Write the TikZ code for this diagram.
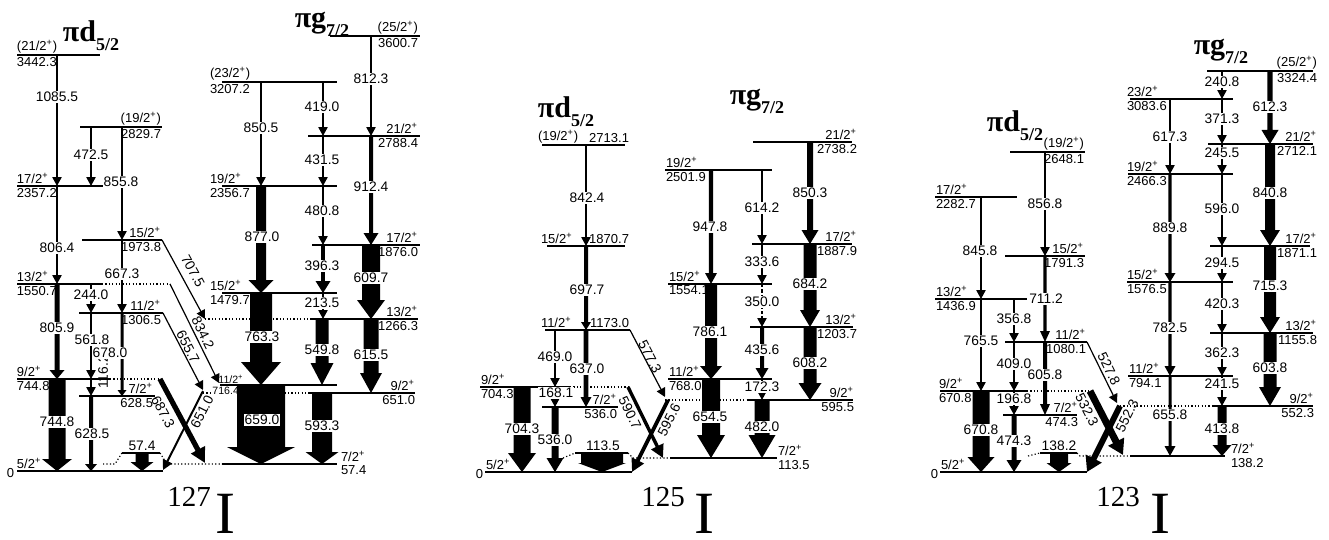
\documentclass[tikz,border=0pt]{standalone}
\usepackage{fontspec}
\usetikzlibrary{arrows.meta}
\newfontfamily\lab{Liberation Sans}
\newfontfamily\ser{Liberation Serif}
\pgfdeclarelayer{fg}
\pgfsetlayers{main,fg}
\tikzset{
 lv/.style={line width=0.55pt},
 lvd/.style={line width=0.6pt, dash pattern=on 0.6pt off 1.1pt},
 gnd/.style={line width=1.1pt},
 tn/.style={line width=0.6pt, -{Triangle[width=4.6pt,length=4.4pt]}},
 tnd/.style={tn, dash pattern=on 1.6pt off 1.1pt},
 ll/.style={font=\lab\fontsize{6.5}{7.5}\selectfont, inner sep=0.8pt},
 lls/.style={font=\lab\fontsize{5.3}{6}\selectfont, inner sep=0.5pt},
 tl/.style={font=\lab\fontsize{6.9}{8}\selectfont, fill=white, inner sep=0.5pt},
 dl/.style={font=\lab\fontsize{6.9}{8}\selectfont, inner sep=0.5pt},
 ttl/.style={font=\ser\bfseries\fontsize{15}{15}\selectfont, inner sep=0pt},
 nuc/.style={font=\ser\fontsize{14.5}{14.5}\selectfont, inner sep=0pt},
 bigI/.style={font=\ser\fontsize{30}{30}\selectfont, inner sep=0pt},
}
\newcommand\spn[1]{#1\textsuperscript{+}}
\newcommand\Lev[3]{\draw[lv] (#1,#3) -- (#2,#3);}
\newcommand\Levd[3]{\draw[lvd] (#1,#3) -- (#2,#3);}
\newcommand\Labl[5]{\node[ll,anchor=south west] (#1a) at (#2,#3) {#4};\node[ll,anchor=north west] (#1b) at (#2,#3) {#5};}
\newcommand\Labr[5]{\node[ll,anchor=south east] (#1a) at (#2,#3) {#4};\node[ll,anchor=north east] (#1b) at (#2,#3) {#5};}
\newcommand\Tarr[3]{\draw[tn] (#1,#2) -- (#1,#3);}
\newcommand\Blk[6]{\fill (#1-#4,#2) -- (#1+#4,#2) -- (#1+#4,#3-#6) -- (#1+#5,#3-#6) -- (#1,#3) -- (#1-#5,#3-#6) -- (#1-#4,#3-#6) -- cycle;}
\newcommand\Tlab[4]{\begin{pgfonlayer}{fg}\node[tl] (#1) at (#2,#3) {#4};\end{pgfonlayer}}
\newcommand\Sub[1]{\raisebox{-0.3em}{\fontsize{9}{9}\selectfont #1}}
\begin{document}
\begin{tikzpicture}[x=0.5pt,y=-0.5pt]
\useasboundingbox (0,0) rectangle (1329,540);
% ================= 127I =================
\node[ttl] (t1d) at (91,36) {πd\Sub{5/2}};
\node[ttl] (t1g) at (322,24) {πg\Sub{7/2}};
\Lev{17}{100}{55}
\Lev{80}{162}{127}
\Lev{17}{103}{186}
\Lev{82}{162}{240}
\Lev{17}{102}{284} \Levd{102}{170}{284}
\Lev{79}{163}{313}
\Lev{17}{110}{379} \Levd{110}{160}{379}
\Lev{79}{155}{396}
\draw[gnd] (17,471) -- (163,471);
\draw[lvd] (103,464) -- (115,464) -- (122,453);
\draw[lv] (122,453) -- (160,453);
\draw[lvd] (160,453) -- (167,464) -- (222,464);
\draw[lv] (222,464) -- (337,464);
\Lev{330}{420}{36}
\Lev{222}{337}{82}
\Lev{308}{420}{136}
\Lev{222}{337}{186}
\Lev{312}{420}{245}
\Lev{222}{337}{293}
\Levd{205}{310}{319} \Lev{310}{418}{319}
\Lev{220}{337}{385}
\Levd{203}{310}{393} \Lev{310}{415}{393}
\Labl{l3442}{15}{55}{(\spn{21/2})}{3442.3}
\Labr{l2829}{163}{127}{(\spn{19/2})}{2829.7}
\Labl{l2357}{15}{186}{\spn{17/2}}{2357.2}
\Labr{l1973}{163}{240}{\spn{15/2}}{1973.8}
\Labl{l1550}{15}{284}{\spn{13/2}}{1550.7}
\Labr{l1306}{163}{313}{\spn{11/2}}{1306.5}
\Labl{l744}{15}{379}{\spn{9/2}}{744.8}
\Labr{l628}{155}{396}{\spn{7/2}}{628.5}
\node[ll,anchor=south west] (l0a) at (15,471) {\spn{5/2}};
\node[ll,anchor=east] (l0b) at (16,473) {0};
\Labr{l3600}{420}{36}{(\spn{25/2})}{3600.7}
\Labl{l3207}{208}{82}{(\spn{23/2})}{3207.2}
\Labr{l2788}{420}{136}{\spn{21/2}}{2788.4}
\Labl{l2356}{208}{186}{\spn{19/2}}{2356.7}
\Labr{l1876}{420}{245}{\spn{17/2}}{1876.0}
\Labl{l1479}{208}{293}{\spn{15/2}}{1479.7}
\Labr{l1266}{420}{319}{\spn{13/2}}{1266.3}
\Labr{l651}{417}{393}{\spn{9/2}}{651.0}
\node[lls,anchor=south west] (l716a) at (217,385) {\spn{11/2}};
\node[lls,fill=white,anchor=north west] (l716b) at (211,386) {716.4};
\Labl{l57}{339}{464}{\spn{7/2}}{57.4}
% arrows
\Tarr{57}{55}{186}
\Tarr{91}{127}{186}
\Tarr{122}{127}{240}
\Tarr{57}{186}{284}
\Tarr{122}{240}{313}
\Tarr{91}{284}{313}
\Blk{57}{284}{379}{2.5}{7.5}{9}
\Tarr{91}{313}{379}
\Blk{122}{313}{396}{1.5}{4.5}{6}
\Tarr{91}{379}{396}
\Blk{91}{396}{471}{2}{6}{7}
\Blk{57}{379}{471}{8.5}{15}{12}
\Blk{142}{453}{471}{6.5}{11.5}{9}
\Tarr{371}{36}{136}
\Tarr{261}{82}{186}
\Tarr{323}{82}{136}
\Tarr{323}{136}{186}
\Blk{371}{136}{245}{2}{7.5}{12}
\Tarr{323}{186}{245}
\Blk{261}{186}{293}{5}{12.5}{13}
\Blk{323}{245}{293}{1.8}{7.5}{12}
\Blk{371}{245}{319}{9}{14}{19}
\Tarr{323}{293}{319}
\Blk{261}{293}{385}{11}{20}{23}
\Blk{322}{319}{385}{6.5}{11.5}{22}
\Blk{371}{319}{393}{7.5}{11}{20}
\Blk{261}{385}{464}{24}{34}{17}
\Blk{322}{393}{464}{10}{16.5}{12}
\draw[tn] (162,240) -- (205,319);
\draw[tn] (170,284) -- (219,383);
\draw[tn] (163,313) -- (203,390);
\draw[line width=2.6pt,-{Triangle[width=7.5pt,length=7.5pt]}] (160,379) -- (205,463);
\draw[line width=1pt,-{Triangle[width=5pt,length=5pt]}] (203,391) -- (163,470);
\node[dl,rotate=-61.4] (a7075) at (193,271) {707.5};
\node[dl,rotate=-63.7] (a8342) at (203,333) {834.2};
\node[dl,rotate=-62.5] (a6557) at (188,347) {655.7};
\node[dl,rotate=-61.8] (a6873) at (163,412) {687.3};
\node[dl,rotate=63.1] (a6510) at (202,412) {651.0};
\node[dl,rotate=90] (a1162) at (103,372) {116.2};
\Tlab{a10855}{57}{97}{1085.5}
\Tlab{a4725}{91}{155}{472.5}
\Tlab{a8558}{121}{182}{855.8}
\Tlab{a8064}{57}{248}{806.4}
\Tlab{a6673}{122}{274}{667.3}
\Tlab{a2440}{91}{295}{244.0}
\Tlab{a8059}{57}{328}{805.9}
\Tlab{a5618}{92}{340}{561.8}
\Tlab{a6780}{110}{353}{678.0}
\Tlab{a6285}{92}{434}{628.5}
\Tlab{a7448}{57}{422}{744.8}
\Tlab{a574}{142}{446}{57.4}
\Tlab{a8123}{371}{79}{812.3}
\Tlab{a8505}{261}{128}{850.5}
\Tlab{a4190}{322}{107}{419.0}
\Tlab{a4315}{322}{160}{431.5}
\Tlab{a9124}{371}{187}{912.4}
\Tlab{a4808}{322}{211}{480.8}
\Tlab{a8770}{262}{237}{877.0}
\Tlab{a3963}{322}{266}{396.3}
\Tlab{a6097}{371}{278}{609.7}
\Tlab{a2135}{322}{303}{213.5}
\Tlab{a7633}{262}{337}{763.3}
\Tlab{a5498}{322}{350}{549.8}
\Tlab{a6155}{371}{355}{615.5}
\Tlab{a6590}{262}{420}{659.0}
\Tlab{a5933}{322}{426}{593.3}
\node[nuc] (n127) at (189,497) {127};
\node[bigI] (i127) at (225,514) {I};
% ================= 125I =================
\node[ttl] (t2d) at (566,112) {πd\Sub{5/2}};
\node[ttl] (t2g) at (757,101) {πg\Sub{7/2}};
\Lev{542}{625}{145}
\Lev{547}{625}{246}
\Lev{545}{630}{330}
\Lev{480}{570}{387} \Levd{570}{628}{387}
\Lev{542}{618}{407}
\draw[gnd] (485,472) -- (632,472);
\draw[lvd] (563,458) -- (575,453);
\draw[lv] (575,453) -- (628,453);
\draw[lvd] (628,453) -- (633,458) -- (670,458);
\draw[lv] (670,458) -- (777,458);
\Lev{753}{852}{142}
\Lev{665}{772}{170}
\Lev{752}{852}{244}
\Lev{668}{772}{284}
\Lev{750}{853}{327}
\Lev{668}{772}{379}
\Levd{665}{748}{400} \Lev{748}{853}{400}
\node[ll,anchor=south west] (m2713a) at (536,145) {(\spn{19/2})};
\node[ll,anchor=south east] (m2713b) at (631,145) {2713.1};
\node[ll,anchor=south west] (m1870a) at (539,246) {\spn{15/2}};
\node[ll,anchor=south east] (m1870b) at (631,246) {1870.7};
\node[ll,anchor=south west] (m1173a) at (539,330) {\spn{11/2}};
\node[ll,anchor=south east] (m1173b) at (631,330) {1173.0};
\Labl{m704}{479}{387}{\spn{9/2}}{704.3}
\Labr{m536}{619}{407}{\spn{7/2}}{536.0}
\node[ll,anchor=south west] (m0a) at (484,472) {\spn{5/2}};
\node[ll,anchor=east] (m0b) at (485,474) {0};
\Labr{m2738}{859}{142}{\spn{21/2}}{2738.2}
\Labl{m2501}{664}{170}{\spn{19/2}}{2501.9}
\Labr{m1887}{859}{244}{\spn{17/2}}{1887.9}
\Labl{m1554}{667}{284}{\spn{15/2}}{1554.1}
\Labr{m1203}{859}{327}{\spn{13/2}}{1203.7}
\Labl{m768}{667}{379}{\spn{11/2}}{768.0}
\Labr{m595}{856}{400}{\spn{9/2}}{595.5}
\Labl{m113}{776}{458}{\spn{7/2}}{113.5}
\Tarr{586}{145}{246}
\Blk{586}{246}{330}{2}{5}{8}
\Tarr{555}{330}{387}
\Blk{586}{330}{407}{2.3}{5.5}{10}
\Tarr{555}{387}{407}
\Blk{522}{387}{472}{8.5}{14}{19}
\Blk{555}{407}{472}{3.5}{8.5}{14}
\Blk{602}{453}{472}{21}{24}{9}
\Blk{810}{142}{244}{3}{8.5}{14}
\Blk{711}{170}{284}{2.2}{6}{11}
\Tarr{762}{170}{244}
\Tarr{762}{244}{284}
\draw[tnd] (762,284) -- (762,327);
\Blk{810}{244}{327}{6.5}{10}{17}
\Blk{711}{284}{379}{6}{11}{13}
\Blk{762}{327}{379}{2}{6.5}{11}
\Blk{810}{327}{400}{6.5}{11.5}{17}
\Tarr{762}{379}{400}
\Blk{711}{379}{458}{9}{14}{23}
\Blk{762}{400}{458}{7.5}{13.5}{23}
\draw[tn] (630,330) -- (665,397);
\draw[line width=1.7pt,-{Triangle[width=6.5pt,length=6.5pt]}] (628,387) -- (663,458);
\draw[line width=1.9pt,-{Triangle[width=6.5pt,length=6.5pt]}] (668,400) -- (632,472);
\node[dl,rotate=-62.4] (b5773) at (650,357) {577.3};
\node[dl,rotate=-63.8] (b5907) at (630,413) {590.7};
\node[dl,rotate=63.4] (b5956) at (669,420) {595.6};
\Tlab{b8424}{587}{198}{842.4}
\Tlab{b6977}{587}{290}{697.7}
\Tlab{b4690}{555}{357}{469.0}
\Tlab{b6370}{587}{369}{637.0}
\Tlab{b1681}{556}{393}{168.1}
\Tlab{b7043}{522}{429}{704.3}
\Tlab{b5360}{555}{440}{536.0}
\Tlab{b1135}{603}{446}{113.5}
\Tlab{b8503}{810}{193}{850.3}
\Tlab{b9478}{710}{227}{947.8}
\Tlab{b6142}{762}{208}{614.2}
\Tlab{b3336}{762}{262}{333.6}
\Tlab{b3500}{762}{302}{350.0}
\Tlab{b6842}{810}{284}{684.2}
\Tlab{b7861}{710}{332}{786.1}
\Tlab{b4356}{762}{350}{435.6}
\Tlab{b6082}{810}{363}{608.2}
\Tlab{b1723}{762}{387}{172.3}
\Tlab{b6545}{710}{417}{654.5}
\Tlab{b4820}{762}{427}{482.0}
\node[nuc] (n125) at (663,497) {125};
\node[bigI] (i125) at (704,514) {I};
% ================= 123I =================
\node[ttl] (t3d) at (1015,126) {πd\Sub{5/2}};
\node[ttl] (t3g) at (1221,51) {πg\Sub{7/2}};
\Lev{1010}{1085}{152}
\Lev{935}{1017}{197}
\Lev{1005}{1085}{256}
\Lev{935}{1027}{299}
\Lev{1005}{1087}{342}
\Lev{940}{1027}{391} \Levd{1027}{1090}{391}
\Lev{1003}{1077}{415}
\draw[gnd] (940,472) -- (1087,472);
\draw[lvd] (1028,456) -- (1040,453);
\draw[lv] (1040,453) -- (1077,453);
\draw[lvd] (1077,453) -- (1080,456) -- (1130,456);
\draw[lv] (1130,456) -- (1225,456);
\Lev{1207}{1313}{71}
\Lev{1130}{1233}{99}
\Lev{1208}{1313}{144}
\Lev{1128}{1233}{174}
\Lev{1210}{1310}{246}
\Lev{1127}{1233}{282}
\Lev{1210}{1313}{333}
\Lev{1128}{1233}{376}
\Levd{1120}{1213}{406} \Lev{1213}{1313}{406}
\Labr{k2648}{1086}{152}{(\spn{19/2})}{2648.1}
\Labl{k2282}{934}{197}{\spn{17/2}}{2282.7}
\Labr{k1791}{1086}{256}{\spn{15/2}}{1791.3}
\Labl{k1436}{934}{299}{\spn{13/2}}{1436.9}
\Labr{k1080}{1088}{342}{\spn{11/2}}{1080.1}
\Labl{k670}{937}{391}{\spn{9/2}}{670.8}
\Labr{k474}{1080}{415}{\spn{7/2}}{474.3}
\node[ll,anchor=south west] (k0a) at (939,472) {\spn{5/2}};
\node[ll,anchor=east] (k0b) at (940,474) {0};
\Labr{k3324}{1319}{71}{(\spn{25/2})}{3324.4}
\Labl{k3083}{1125}{99}{\spn{23/2}}{3083.6}
\Labr{k2712}{1319}{144}{\spn{21/2}}{2712.1}
\Labl{k2466}{1125}{174}{\spn{19/2}}{2466.3}
\Labr{k1871}{1319}{246}{\spn{17/2}}{1871.1}
\Labl{k1576}{1125}{282}{\spn{15/2}}{1576.5}
\Labr{k1155}{1319}{333}{\spn{13/2}}{1155.8}
\Labl{k794}{1127}{376}{\spn{11/2}}{794.1}
\Labr{k552}{1316}{406}{\spn{9/2}}{552.3}
\Labl{k138}{1229}{456}{\spn{7/2}}{138.2}
\Tarr{1045}{152}{256}
\Tarr{981}{197}{299}
\Blk{1045}{256}{342}{1.7}{5}{11}
\Tarr{1014}{299}{342}
\Tarr{981}{299}{391}
\Tarr{1014}{342}{391}
\Blk{1045}{342}{415}{2}{5}{11}
\Tarr{1014}{391}{415}
\Blk{981}{391}{472}{8.5}{13.5}{15}
\Blk{1014}{415}{472}{2.5}{7.5}{12}
\Blk{1059}{453}{472}{9}{12.5}{9}
\Tarr{1222}{71}{99}
\Blk{1270}{71}{144}{2.7}{8.5}{14}
\Tarr{1170}{99}{174}
\Tarr{1222}{99}{144}
\Tarr{1222}{144}{174}
\Blk{1270}{144}{246}{5}{10}{16}
\Tarr{1222}{174}{246}
\Blk{1170}{174}{282}{1.7}{5.5}{9}
\Tarr{1222}{246}{282}
\Blk{1270}{246}{333}{6}{10}{16}
\Tarr{1222}{282}{333}
\Blk{1170}{282}{376}{1.7}{5.5}{10}
\Tarr{1222}{333}{376}
\Blk{1270}{333}{406}{6.5}{11}{19}
\Tarr{1222}{376}{406}
\Blk{1170}{376}{456}{1.5}{5.5}{10}
\Blk{1222}{406}{456}{4.5}{9.5}{11}
\draw[tn] (1087,342) -- (1117,403);
\draw[line width=3.5pt,-{Triangle[width=8.5pt,length=7.5pt]}] (1090,391) -- (1123,455);
\draw[line width=3pt,-{Triangle[width=8.5pt,length=7.5pt]}] (1120,406) -- (1087,472);
\node[dl,rotate=-63.8] (c5278) at (1109,369) {527.8};
\node[dl,rotate=-62.7] (c5323) at (1087,410) {532.3};
\node[dl,rotate=63.4] (c5523) at (1127,416) {552.3};
\Tlab{c8568}{1045}{204}{856.8}
\Tlab{c8458}{980}{251}{845.8}
\Tlab{c7112}{1046}{299}{711.2}
\Tlab{c3568}{1014}{319}{356.8}
\Tlab{c7655}{981}{341}{765.5}
\Tlab{c4090}{1014}{364}{409.0}
\Tlab{c6058}{1045}{375}{605.8}
\Tlab{c1968}{1014}{399}{196.8}
\Tlab{c6708}{981}{430}{670.8}
\Tlab{c4743}{1014}{441}{474.3}
\Tlab{c1382}{1059}{446}{138.2}
\Tlab{c2408}{1222}{82}{240.8}
\Tlab{c6123}{1270}{107}{612.3}
\Tlab{c6173}{1170}{137}{617.3}
\Tlab{c3713}{1222}{119}{371.3}
\Tlab{c2455}{1222}{153}{245.5}
\Tlab{c8408}{1270}{193}{840.8}
\Tlab{c5960}{1222}{209}{596.0}
\Tlab{c8898}{1170}{228}{889.8}
\Tlab{c2945}{1222}{263}{294.5}
\Tlab{c7153}{1270}{286}{715.3}
\Tlab{c4203}{1222}{304}{420.3}
\Tlab{c7825}{1170}{328}{782.5}
\Tlab{c3623}{1222}{353}{362.3}
\Tlab{c6038}{1270}{368}{603.8}
\Tlab{c2415}{1222}{384}{241.5}
\Tlab{c6558}{1170}{415}{655.8}
\Tlab{c4138}{1222}{429}{413.8}
\node[nuc] (n123) at (1118,497) {123};
\node[bigI] (i123) at (1160,514) {I};
\end{tikzpicture}
\end{document}
